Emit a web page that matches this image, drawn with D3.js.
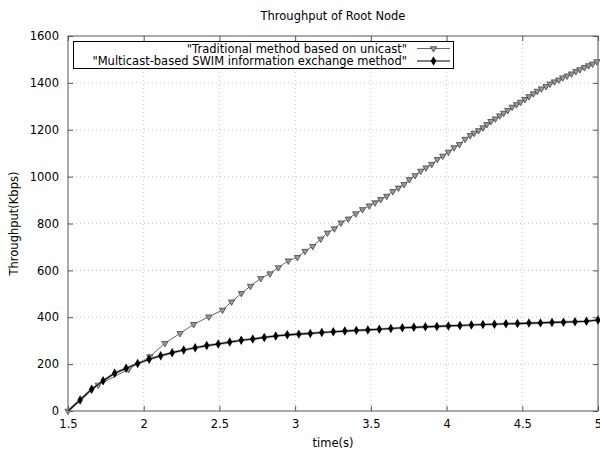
<!DOCTYPE html>
<html><head><meta charset="utf-8">
<script src="https://cdn.jsdelivr.net/npm/d3@7"></script>
<style>body{margin:0;background:#fff}svg{display:block;font-family:"DejaVu Sans",sans-serif}</style>
</head><body><svg id="c" width="600" height="452"></svg>
<script>
const title = "Throughput of Root Node";
const xLabel = "time(s)";
const yLabel = "Throughput(Kbps)";
const seriesNames = ["\"Traditional method based on unicast\"", "\"Multicast-based SWIM information exchange method\""];
const xTicks = [1.5, 2, 2.5, 3, 3.5, 4, 4.5, 5];
const xTickLabels = ["1.5", "2", "2.5", "3", "3.5", "4", "4.5", "5"];
const yTicks = [0, 200, 400, 600, 800, 1000, 1200, 1400, 1600];
const yTickLabels = ["0", "200", "400", "600", "800", "1000", "1200", "1400", "1600"];

const tradTime = [1.5, 1.70, 1.90, 2.04, 2.14, 2.24, 2.33, 2.43, 2.52, 2.58, 2.645, 2.705, 2.773, 2.834, 2.889, 2.955,
  3.015, 3.065, 3.116, 3.169, 3.213, 3.259, 3.303, 3.351, 3.400, 3.445, 3.490, 3.528, 3.565, 3.605, 3.645, 3.682,
  3.719, 3.754, 3.792, 3.829, 3.864, 3.902, 3.939, 3.975, 4.012, 4.049, 4.085, 4.122, 4.156, 4.182, 4.211, 4.240,
  4.266, 4.293, 4.322, 4.351, 4.377, 4.404, 4.433, 4.462, 4.488, 4.517, 4.544, 4.573, 4.599, 4.627, 4.657, 4.683,
  4.712, 4.741, 4.767, 4.796, 4.825, 4.854, 4.880, 4.910, 4.938, 4.964, 4.993];
const tradValue = [0, 111, 178, 232, 289, 331, 370, 402, 431, 466, 502, 533, 566, 586, 612, 641,
  656, 682, 703, 734, 760, 778, 803, 820, 842, 860, 876, 889, 903, 917, 937, 952,
  967, 988, 1005, 1024, 1038, 1053, 1074, 1088, 1105, 1124, 1138, 1160, 1176, 1186, 1197, 1209,
  1223, 1236, 1247, 1260, 1271, 1283, 1297, 1308, 1318, 1330, 1342, 1354, 1365, 1375, 1385, 1396,
  1405, 1413, 1422, 1430, 1439, 1449, 1457, 1466, 1474, 1481, 1491];

const mcastTime = [1.5, 1.58, 1.656, 1.732, 1.808, 1.884, 1.96, 2.036, 2.112, 2.188, 2.264, 2.34, 2.416, 2.492, 2.568,
  2.644, 2.72, 2.796, 2.872, 2.948, 3.024, 3.10, 3.176, 3.252, 3.328, 3.404, 3.48, 3.556, 3.632, 3.708, 3.784,
  3.86, 3.936, 4.012, 4.088, 4.164, 4.24, 4.316, 4.392, 4.468, 4.544, 4.62, 4.696, 4.772, 4.848, 4.924, 5.0];
const mcastValue = [0, 47, 93, 129, 161, 182, 203, 221, 236, 249, 260, 270, 279, 286, 294, 302,
  307, 314, 320, 325, 328, 331, 335, 338, 341, 344, 346, 349, 352, 355, 357,
  359, 361, 363, 365, 367, 369, 370, 372, 373, 375, 376, 378, 379, 381, 383, 388];

const svg = d3.select("#c");
const L = 68, R = 598, T = 36, B = 411;
const x = d3.scaleLinear().domain([1.5, 5]).range([L, R]);
const y = d3.scaleLinear().domain([0, 1600]).range([B, T]);
const frameColor = "#555";

// grid
const g = svg.append("g");
g.selectAll(".gx").data(xTicks.slice(1, -1)).enter().append("line")
  .attr("x1", d => x(d)).attr("x2", d => x(d)).attr("y1", T).attr("y2", B)
  .attr("stroke", "#c8c8c8").attr("stroke-width", 1).attr("stroke-dasharray", "1,3");
g.selectAll(".gy").data(yTicks.slice(1, -1)).enter().append("line")
  .attr("y1", d => y(d)).attr("y2", d => y(d)).attr("x1", L).attr("x2", R)
  .attr("stroke", "#c8c8c8").attr("stroke-width", 1).attr("stroke-dasharray", "1,3");

// axes
const fs = 11.5;
const xAxis = d3.axisBottom(x).tickValues(xTicks).tickFormat((d, i) => xTickLabels[i]).tickSizeInner(-5).tickSizeOuter(0).tickPadding(9);
const xa = svg.append("g").attr("transform", `translate(0,${B})`).call(xAxis);
const xTop = d3.axisTop(x).tickValues(xTicks).tickFormat("").tickSizeInner(-5).tickSizeOuter(0);
const xt = svg.append("g").attr("transform", `translate(0,${T})`).call(xTop);
const yAxis = d3.axisLeft(y).tickValues(yTicks).tickFormat((d, i) => yTickLabels[i]).tickSizeInner(-5).tickSizeOuter(0).tickPadding(9);
const ya = svg.append("g").attr("transform", `translate(${L},0)`).call(yAxis);
const yRight = d3.axisRight(y).tickValues(yTicks).tickFormat("").tickSizeInner(-5).tickSizeOuter(0);
const yr = svg.append("g").attr("transform", `translate(${R},0)`).call(yRight);
[xa, xt, ya, yr].forEach(a => {
  a.select(".domain").remove();
  a.selectAll(".tick line").attr("stroke", frameColor);
  a.selectAll(".tick text").attr("fill", "#000").attr("font-size", fs).attr("font-family", "DejaVu Sans");
});
svg.append("rect").attr("x", L).attr("y", T).attr("width", R - L).attr("height", B - T)
  .attr("fill", "none").attr("stroke", frameColor).attr("stroke-width", 1);

// series
const tradData = tradTime.map((t, i) => [t, tradValue[i]]);
const mcData = mcastTime.map((t, i) => [t, mcastValue[i]]);
const line = d3.line().x(d => x(d[0])).y(d => y(d[1]));

svg.append("path").datum(tradData).attr("d", line).attr("fill", "none").attr("stroke", "#666").attr("stroke-width", 1);
const tri = d3.symbol().type(d3.symbolTriangle).size(17);
svg.selectAll(".tri").data(tradData).enter().append("path")
  .attr("d", tri).attr("transform", d => `translate(${x(d[0])},${y(d[1])}) rotate(180)`)
  .attr("fill", "#999").attr("stroke", "#444").attr("stroke-width", 0.8);

svg.append("path").datum(mcData).attr("d", line).attr("fill", "none").attr("stroke", "#aaa").attr("stroke-width", 2.6);
svg.append("path").datum(mcData).attr("d", line).attr("fill", "none").attr("stroke", "#000").attr("stroke-width", 1.1);
const dia = d3.symbol().type(d3.symbolDiamond).size(26);
svg.selectAll(".dia").data(mcData.slice(1)).enter().append("path")
  .attr("d", dia).attr("transform", d => `translate(${x(d[0])},${y(d[1])})`)
  .attr("fill", "#000");

// legend
const lg = svg.append("g");
lg.append("rect").attr("x", 73.5).attr("y", 41.5).attr("width", 380).attr("height", 27)
  .attr("fill", "#fff").attr("stroke", "#000").attr("stroke-width", 1);
const legY = [48.5, 61];
seriesNames.forEach((name, i) => {
  lg.append("text").attr("x", 407).attr("y", legY[i]).attr("dy", "0.35em").attr("text-anchor", "end")
    .attr("font-size", fs).text(name);
  lg.append("line").attr("x1", 417).attr("x2", 450).attr("y1", legY[i]).attr("y2", legY[i])
    .attr("stroke", i === 0 ? "#666" : "#000").attr("stroke-width", i === 0 ? 1 : 1.2);
  if (i === 0) {
    lg.append("path").attr("d", tri).attr("transform", `translate(433.5,${legY[i]}) rotate(180)`)
      .attr("fill", "#999").attr("stroke", "#444").attr("stroke-width", 0.8);
  } else {
    lg.append("path").attr("d", dia).attr("transform", `translate(433.5,${legY[i]})`).attr("fill", "#000");
  }
});

// titles
svg.append("text").attr("x", (L + R) / 2).attr("y", 16).attr("dy", "0.35em").attr("text-anchor", "middle")
  .attr("font-size", fs).text(title);
svg.append("text").attr("x", (L + R) / 2).attr("y", 443).attr("dy", "0.35em").attr("text-anchor", "middle")
  .attr("font-size", fs).text(xLabel);
svg.append("text").attr("transform", `translate(14,${(T + B) / 2}) rotate(-90)`).attr("dy", "0.35em")
  .attr("text-anchor", "middle").attr("font-size", fs).text(yLabel);
</script></body></html>
